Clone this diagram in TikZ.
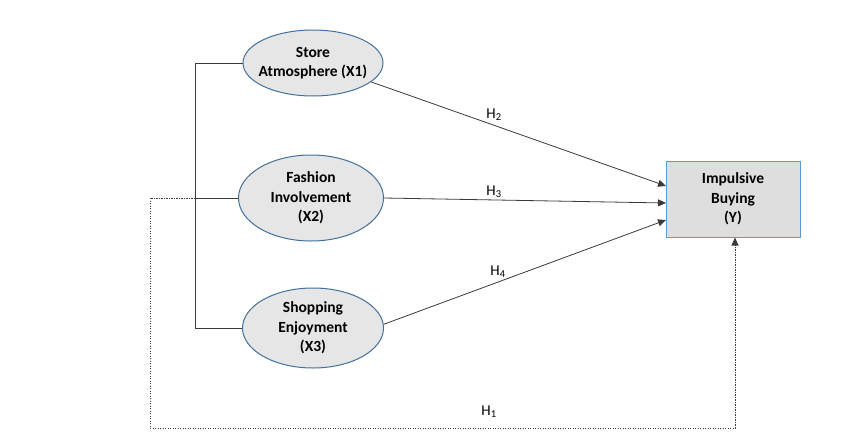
\documentclass[tikz,border=0pt]{standalone}
\usepackage{fontspec}
\setmainfont{Carlito}
\usetikzlibrary{arrows.meta,shapes.geometric}
\definecolor{ellfill}{HTML}{E7E6E6}
\definecolor{elldraw}{HTML}{41719C}
\definecolor{boxfill}{HTML}{DEDEDE}
\definecolor{boxdraw}{HTML}{5B9BD5}
\definecolor{linecol}{HTML}{3A3A3A}
\tikzset{
  lat/.style={ellipse, draw=elldraw, fill=ellfill, line width=1pt, inner sep=-14pt,
    align=center, font=\bfseries\fontsize{15.5}{19.5}\selectfont},
  dep/.style={rectangle, draw=boxdraw, fill=boxfill, line width=1pt, inner sep=0pt,
    align=center, font=\bfseries\fontsize{15.5}{19.5}\selectfont,
    minimum width=134pt, minimum height=76pt},
  conn/.style={draw=linecol, line width=0.8pt},
  arr/.style={conn, -{Triangle[length=8pt,width=7pt]}},
  dots/.style={draw=linecol, line width=0.9pt, dash pattern=on 1.2pt off 1.3pt},
  hlab/.style={font=\fontsize{15}{17}\selectfont, inner sep=0pt}
}
\begin{document}
\begin{tikzpicture}[x=1pt,y=-1pt]
\useasboundingbox[fill=white] (0,0) rectangle (862,434);
\node[lat, minimum width=140pt, minimum height=66pt] (x1) at (313,63) {Store\\Atmosphere (X1)};
\node[lat, minimum width=145pt, minimum height=86pt] (x2) at (311,198) {Fashion\\Involvement\\(X2)};
\node[lat, minimum width=141pt, minimum height=80pt] (x3) at (313,328) {Shopping\\Enjoyment\\(X3)};
\node[dep] (y) at (733,199) {Impulsive\\Buying\\(Y)};
\coordinate (bb) at (195,328);
\coordinate (t2) at (666,186);
\coordinate (t3) at (666,203);
\coordinate (t4) at (666,220);
\coordinate (d0) at (150,198);
\coordinate (d1) at (150,428);
\coordinate (d2) at (735,428);
% bracket
\draw[conn] (x1.west) -- (x1.west -| bb) -- (bb) -- (x3.west);
\draw[conn] (x2.west) -- (x2.west -| bb);
% dotted H1
\draw[dots] (x2.west -| bb) -- (d0 |- x2.west) -- (d1) -- (d2) -- ([yshift=-3pt]y.south -| d2);
\draw[arr] ([yshift=-4pt]y.south -| d2) -- (y.south -| d2);
% arrows
\draw[arr] (x1.-18) -- (t2);
\draw[arr] (x2.east) -- (t3);
\draw[arr] (x3.3) -- (t4);
% labels
\node[hlab] (h2) at (494,115) {H\textsubscript{2}};
\node[hlab] (h3) at (494,192) {H\textsubscript{3}};
\node[hlab] (h4) at (498,272) {H\textsubscript{4}};
\node[hlab] (h1) at (489,412) {H\textsubscript{1}};
\end{tikzpicture}
\end{document}
